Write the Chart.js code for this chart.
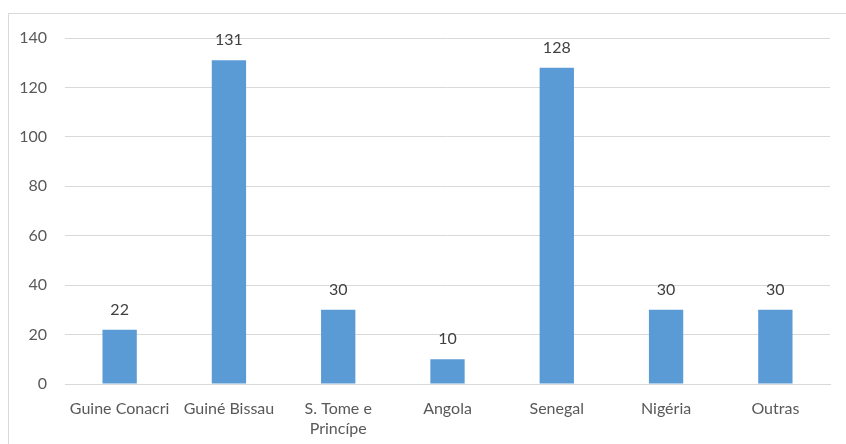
<!DOCTYPE html>
<html>
<head>
<meta charset="utf-8">
<script src="https://cdn.jsdelivr.net/npm/chart.js@4.4.0/dist/chart.umd.min.js"></script>
<style>
  html, body { margin: 0; padding: 0; background: #fff; overflow: hidden; }
  #wrap { position: relative; width: 846px; height: 444px; }
  #frame { position: absolute; left: 8px; top: 13px; width: 900px; height: 500px; border: 1px solid #d9d9d9; }
  canvas { position: absolute; left: 0; top: 0; }
</style>
</head>
<body>
<div id="wrap">
  <div id="frame"></div>
  <canvas id="chart" width="846" height="444"></canvas>
</div>
<script>
// dados
const categories = ["Guine Conacri", "Guiné Bissau", ["S. Tome e", "Princípe"], "Angola", "Senegal", "Nigéria", "Outras"];
const values = [22, 131, 30, 10, 128, 30, 30];
const yTicks = [0, 20, 40, 60, 80, 100, 120, 140];

const FONT = "Lato, 'Open Sans', sans-serif";
const TEXT = "#595959";

// rotulos em cima das barras
const barLabels = {
  id: "barLabels",
  afterDatasetsDraw(chart) {
    const ctx = chart.ctx;
    const meta = chart.getDatasetMeta(0);
    ctx.save();
    ctx.font = "16px " + FONT;
    ctx.fillStyle = "#404040";
    ctx.textAlign = "center";
    ctx.textBaseline = "middle";
    meta.data.forEach((bar, i) => {
      ctx.fillText(values[i], bar.x, bar.y - 20);
    });
    ctx.restore();
  }
};

new Chart(document.getElementById("chart"), {
  type: "bar",
  data: {
    labels: categories,
    datasets: [{
      data: values,
      backgroundColor: "#5b9bd5",
      borderWidth: 0,
      categoryPercentage: 1,
      barPercentage: 0.314
    }]
  },
  options: {
    responsive: false,
    animation: false,
    layout: { padding: { left: 8, right: 16, top: 38, bottom: 0 } },
    plugins: { legend: { display: false }, tooltip: { enabled: false } },
    scales: {
      x: {
        grid: { display: false, drawTicks: false },
        border: { display: true, color: "#d9d9d9" },
        ticks: { color: TEXT, font: { family: FONT, size: 16, lineHeight: 1.3 }, padding: 14, maxRotation: 0, autoSkip: false },
        afterFit: s => { s.height = 60; }
      },
      y: {
        min: 0, max: 140,
        afterBuildTicks: s => { s.ticks = yTicks.map(v => ({ value: v })); },
        grid: { color: "#d9d9d9", drawTicks: false },
        border: { display: false },
        ticks: { color: TEXT, font: { family: FONT, size: 16 }, padding: 18 },
        afterFit: s => { s.width = 57; }
      }
    }
  },
  plugins: [barLabels]
});
</script>
</body>
</html>
